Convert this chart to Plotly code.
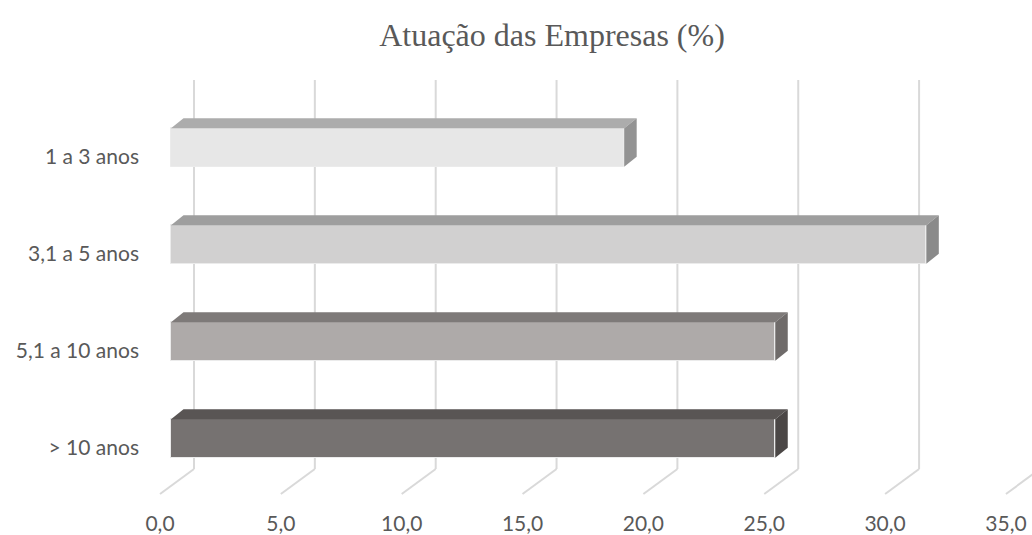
import plotly.graph_objects as go

# ---- data ----
categories = ["1 a 3 anos", "3,1 a 5 anos", "5,1 a 10 anos", "> 10 anos"]
values = [18.75, 31.25, 25.0, 25.0]
x_ticks = [0, 5, 10, 15, 20, 25, 30, 35]
title_text = "Atuação das Empresas (%)"

front_colors = ["#e7e7e7", "#d1d0d0", "#aeaaa9", "#767271"]
top_colors = ["#acacac", "#9e9e9e", "#7e7a79", "#595554"]
side_colors = ["#939393", "#8a8a8a", "#6f6b6a", "#4b4746"]

# ---- 3D geometry (in axis units) ----
px_per_x = 24.17          # pixels per value unit
px_per_y = 97.0           # pixels per category
bar_base = 11 / px_per_x  # bar front face starts a bit behind the front floor edge
half_h = 19.25 / px_per_y
depth_dx = 12.5 / px_per_x
depth_dy = 10 / px_per_y
wall_dx = 34 / px_per_x
wall_top = (80 - 147.5) / px_per_y
floor_back = (469 - 147.5) / px_per_y
floor_front = (494 - 147.5) / px_per_y

ypos = list(range(len(categories)))

fig = go.Figure()

# gridlines: vertical on back wall + diagonal on floor
shapes = []
for t in x_ticks:
    xb = t + wall_dx
    shapes.append(dict(type="line", xref="x", yref="y", x0=xb, x1=xb, y0=wall_top, y1=floor_back,
                       line=dict(color="#d9d9d9", width=2), layer="below"))
    shapes.append(dict(type="line", xref="x", yref="y", x0=xb, x1=t, y0=floor_back, y1=floor_front,
                       line=dict(color="#d9d9d9", width=2), layer="below"))

# front faces
fig.add_trace(go.Bar(
    y=ypos, x=values, base=[bar_base] * len(values), orientation="h",
    width=2 * half_h,
    marker=dict(color=front_colors, line=dict(color="#ebebeb", width=1)),
    hoverinfo="skip", showlegend=False,
))

# top and side faces
for i, v in enumerate(values):
    x0 = bar_base
    x1 = bar_base + v
    yt = i - half_h
    yb = i + half_h
    fig.add_trace(go.Scatter(
        x=[x0, x1, x1 + depth_dx, x0 + depth_dx, x0],
        y=[yt, yt, yt - depth_dy, yt - depth_dy, yt],
        fill="toself", fillcolor=top_colors[i], mode="lines",
        line=dict(width=0, color=top_colors[i]), hoverinfo="skip", showlegend=False,
    ))
    fig.add_trace(go.Scatter(
        x=[x1, x1 + depth_dx, x1 + depth_dx, x1, x1],
        y=[yt, yt - depth_dy, yb - depth_dy, yb, yt],
        fill="toself", fillcolor=side_colors[i], mode="lines",
        line=dict(width=0, color=side_colors[i]), hoverinfo="skip", showlegend=False,
    ))

W, H = 1032, 535
ml, mr, mt, mb = 150, 0, 60, 30
x_lo = (ml - 160) / px_per_x
x_hi = (W - mr - 160) / px_per_x
y_top = (mt - 147.5) / px_per_y
y_bot = (H - mb - 147.5) / px_per_y

fig.update_layout(
    width=W, height=H,
    margin=dict(l=ml, r=mr, t=mt, b=mb, autoexpand=False),
    paper_bgcolor="white", plot_bgcolor="white",
    separators=",.",
    shapes=shapes,
    title=dict(text=title_text, x=552 / W, xref="container", xanchor="center",
               y=1 - 35 / H, yref="container", yanchor="middle",
               font=dict(family="Liberation Serif", size=32, color="#595959")),
    xaxis=dict(range=[x_lo, x_hi], tickvals=x_ticks, tickformat=".1f",
               showgrid=False, zeroline=False, showline=False, ticks="",
               tickfont=dict(family="Lato", size=21, color="#595959"),
               ticklabelstandoff=4, automargin=False),
    yaxis=dict(range=[y_bot, y_top], tickvals=[p + 0.093 for p in ypos], ticktext=categories,
               showgrid=False, zeroline=False, showline=False, ticks="",
               tickfont=dict(family="Lato", size=21, color="#595959"),
               ticklabelstandoff=10, automargin=False),
    bargap=0,
)

fig.write_html("out.html")
